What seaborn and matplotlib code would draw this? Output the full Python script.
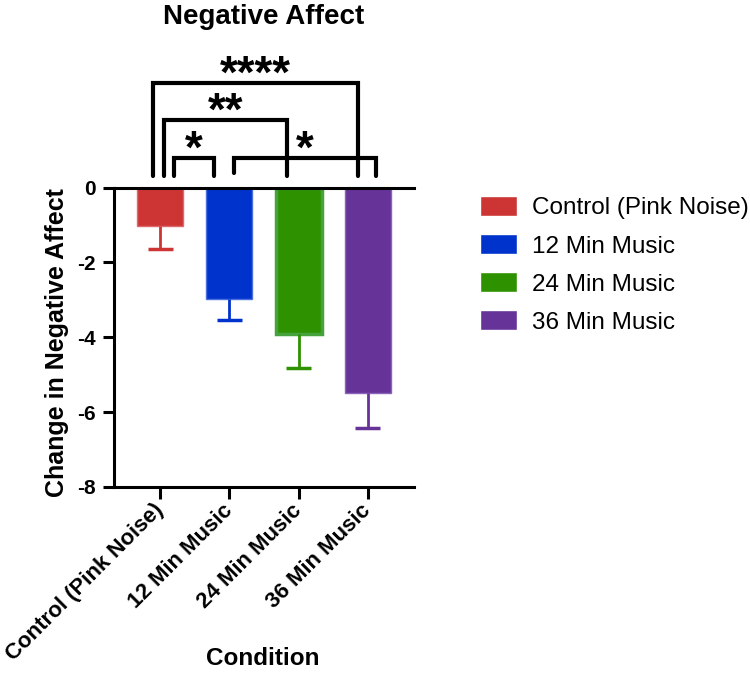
import matplotlib
matplotlib.use("Agg")
import matplotlib.pyplot as plt
import matplotlib.transforms as mtransforms
import seaborn as sns
import pandas as pd

conditions = ['Control (Pink Noise)', '12 Min Music', '24 Min Music', '36 Min Music']
means = [-1.02, -2.98, -3.91, -5.48]
sem = [0.62, 0.55, 0.92, 0.94]
colors = ['#cd3535', '#0033cc', '#2e9100', '#663399']
edges = ['#dd6a6a', '#4a6fe0', '#45a23c', '#8a63bb']

# significance brackets: (left x, right x, top y, label)
brackets = [
    (-0.105, 2.85, 2.79, '****'),
    (0.058, 1.827, 1.81, '**'),
    (0.202, 0.783, 0.79, '*'),
    (1.067, 3.115, 0.79, '*'),
]

df = pd.DataFrame({'Condition': conditions, 'Change': means})

sns.set_style('white')
plt.rcParams['font.family'] = ['Liberation Sans', 'DejaVu Sans']
plt.rcParams['text.color'] = 'black'
plt.rcParams['axes.labelcolor'] = 'black'
plt.rcParams['xtick.color'] = 'black'
plt.rcParams['ytick.color'] = 'black'

fig = plt.figure(figsize=(7.5, 6.74), dpi=100)
ax = fig.add_axes([114 / 750, 1 - 487 / 674, 300 / 750, 299.5 / 674])

sns.barplot(data=df, x='Condition', y='Change', hue='Condition', palette=colors,
            saturation=1, width=0.664, legend=True, ax=ax, errorbar=None)

for bar, ec in zip(ax.patches, edges):
    bar.set_edgecolor(ec)
    bar.set_linewidth(1.0)
ax.patches[2].set_linewidth(2.5)

# error bars (downward only)
xs = list(range(len(conditions)))
lows = [m - s for m, s in zip(means, sem)]
ax.vlines(xs, means, lows, colors=colors, linewidth=2, zorder=3)
ax.hlines(lows, [x - 0.18 for x in xs], [x + 0.18 for x in xs], colors=colors,
          linewidth=2.5, zorder=3)

ax.set_xlim(-0.664, 3.664)
ax.set_ylim(-8, 0)
ax.set_yticks([0, -2, -4, -6, -8])
ax.set_yticklabels(['0', '-2', '-4', '-6', '-8'], fontsize=15, fontweight='bold')
ax.set_xticks(xs)
ax.set_xticklabels(conditions, fontsize=16, fontweight='bold', rotation=45,
                   ha='right', va='center', rotation_mode='anchor')
shift = mtransforms.ScaledTranslation(1 / 72, 2 / 72, fig.dpi_scale_trans)
for lab in ax.get_xticklabels():
    lab.set_transform(lab.get_transform() + shift)
ax.set_xlabel('')
ax.set_ylabel('')

for side in ['left', 'top', 'bottom']:
    ax.spines[side].set_visible(True)
    ax.spines[side].set_linewidth(2.2)
    ax.spines[side].set_color('black')
ax.spines['right'].set_visible(False)
ax.tick_params(axis='y', length=8, width=2.2, pad=5, left=True, colors='black')
ax.tick_params(axis='x', length=8.5, width=2.2, pad=6, bottom=True, colors='black')

for x1, x2, top, label in brackets:
    bottom = 0.31
    left_bottom = 0.40 if x1 > 1 else bottom
    ax.plot([x1, x1, x2, x2], [left_bottom, top, top, bottom], color='black',
            linewidth=3, clip_on=False, solid_capstyle='round',
            solid_joinstyle='miter', zorder=4)
    ax.text((x1 + x2) / 2, top - 0.12, label, ha='center', va='baseline',
            fontsize=33, fontweight='bold', clip_on=False)

handles, labels = ax.get_legend_handles_labels()
ax.legend(handles, labels, loc='upper left', bbox_to_anchor=(480 / 750, 1 - 196 / 674),
          bbox_transform=fig.transFigure, frameon=False, fontsize=17.5,
          handlelength=1.52, handleheight=0.9, handletextpad=0.62,
          labelspacing=0.6, borderpad=0, borderaxespad=0)

fig.text(264 / 750, 1 - 24 / 674, 'Negative Affect', ha='center', va='baseline',
         fontsize=20, fontweight='bold')
fig.text(57 / 750, 1 - 343 / 674, 'Change in Negative Affect', ha='center', va='center',
         rotation=90, fontsize=18, fontweight='bold')
fig.text(263 / 750, 1 - 665 / 674, 'Condition', ha='center', va='baseline',
         fontsize=17.5, fontweight='bold')

fig.savefig('out.png', dpi=100)
